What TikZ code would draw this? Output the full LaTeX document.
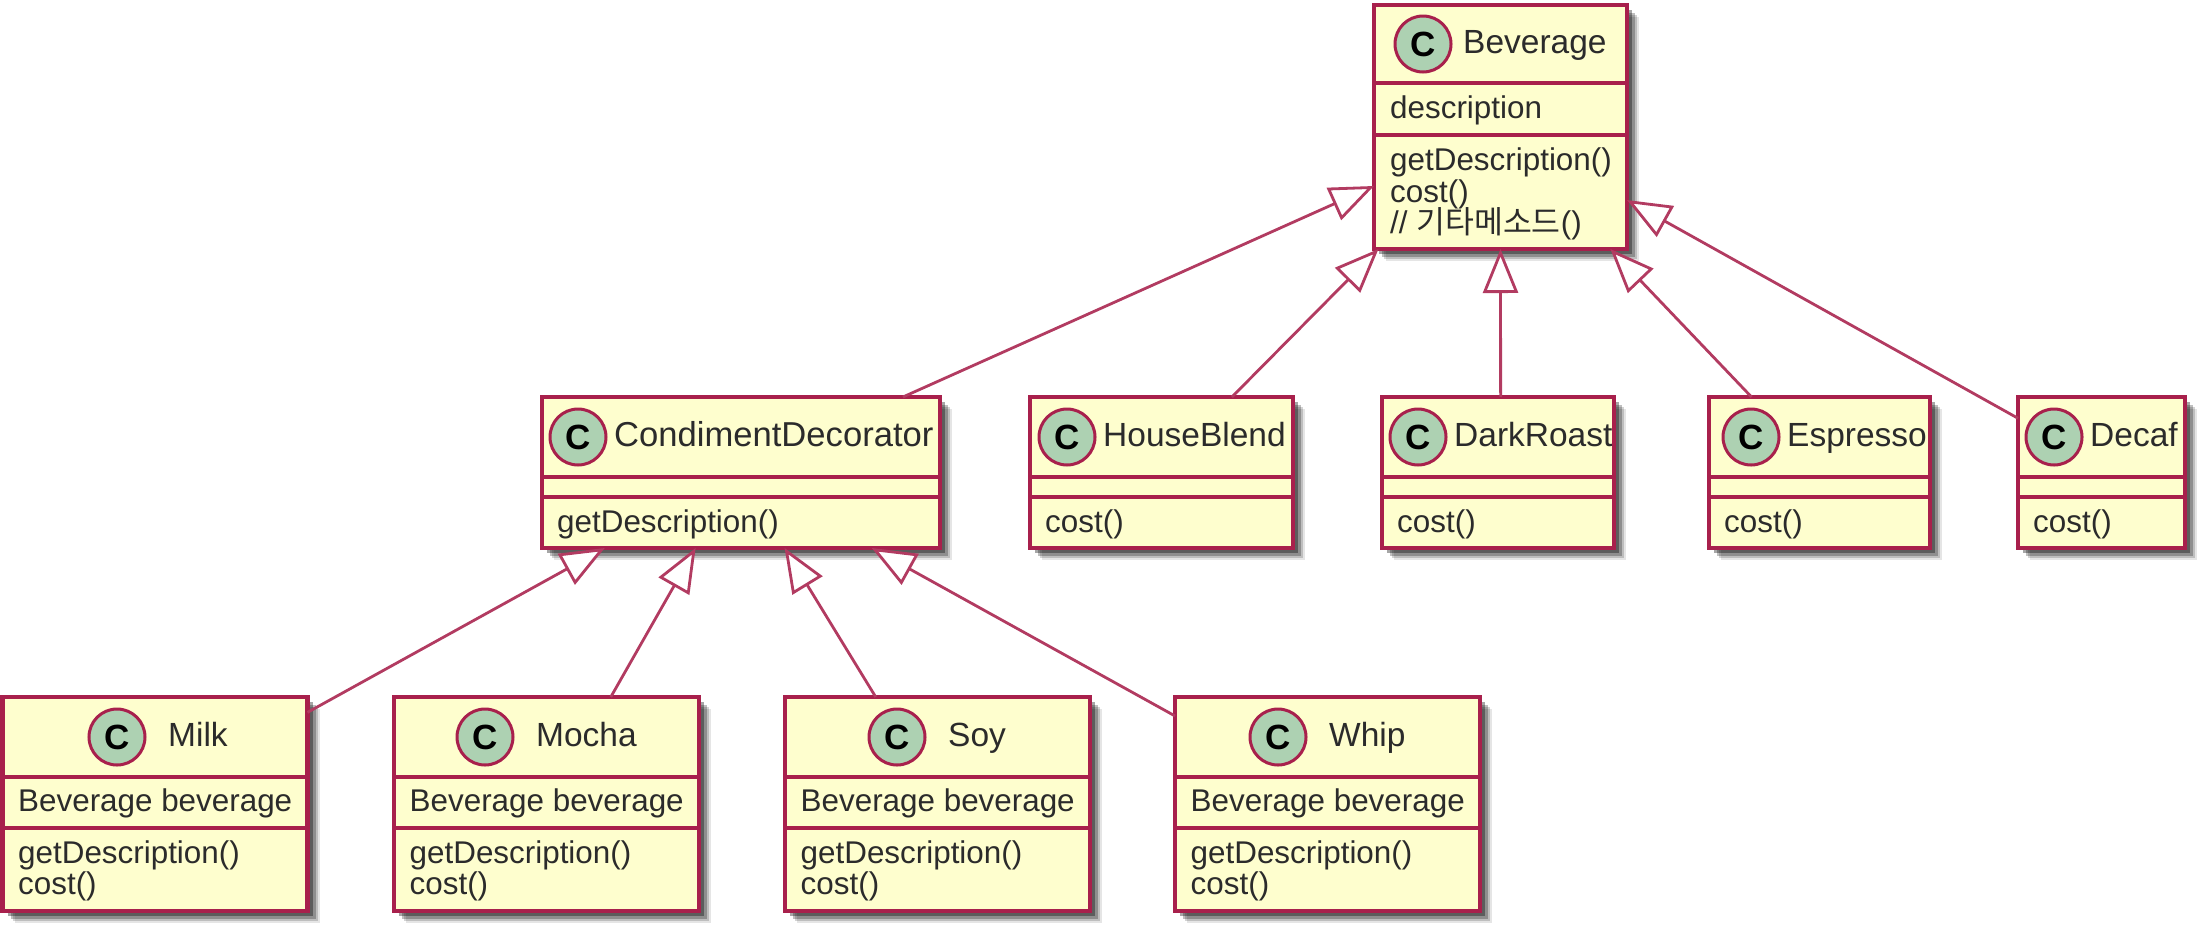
\documentclass[tikz,border=0pt]{standalone}
\usepackage{fontspec}
\setmainfont{Liberation Sans}
\newfontfamily\cjkfont{Noto Sans CJK KR}
\usepackage{xcolor}
\usepackage{tikz}
\usetikzlibrary{positioning, arrows.meta, shadows}
\definecolor{UMLline}{HTML}{A8204C}
\definecolor{UMLfill}{HTML}{FEFECE}
\definecolor{UMLspot}{HTML}{ADD1B2}
\definecolor{UMLtext}{HTML}{2B2B2B}

\begin{document}
\begin{tikzpicture}[
  x=1pt, y=-1pt,
  classbox/.style={rectangle, draw=UMLline, line width=4.4pt, fill=UMLfill,
                   inner sep=0pt, outer sep=0pt,
                   general shadow={shadow xshift=12pt, shadow yshift=-12pt, fill=black, opacity=.1},
                   general shadow={shadow xshift=10pt, shadow yshift=-10pt, fill=black, opacity=.17},
                   general shadow={shadow xshift=8pt, shadow yshift=-8pt, fill=black, opacity=.25},
                   general shadow={shadow xshift=5pt, shadow yshift=-5pt, fill=black, opacity=.35}},
  spot/.style={circle, draw=UMLline, line width=3pt, fill=UMLspot, minimum size=56pt,
               inner sep=0pt, outer sep=0pt, text=black,
               font=\fontsize{35}{35}\selectfont\bfseries},
  title/.style={inner sep=0pt, text=UMLtext, text height=25pt, text depth=6pt,
                font=\fontsize{33.5}{36}\selectfont},
  member/.style={inner sep=0pt, anchor=base west, text=UMLtext,
                 font=\fontsize{31.4}{34}\selectfont},
  divide/.style={UMLline, line width=3.4pt},
  inh/.style={-{Triangle[open, fill=white, length=44pt, width=35pt, line width=2.8pt]},
              UMLline!88, line width=2.8pt},
]
\useasboundingbox (0,0) rectangle (2206,930);

% top
\node[classbox, minimum width=253pt, minimum height=244pt] (bev) at (1500.5,127) {};
\node[spot] (bev-c) at (1423,44) {C};
\node[title, right=12pt of bev-c] (bev-t) {Beverage};
\draw[divide] (bev.west |- 0,83) -- (bev.east |- 0,83);
\draw[divide] (bev.west |- 0,135) -- (bev.east |- 0,135);
\node[member] (bev-a) at (1390,118) {description};
\node[member] (bev-m) at (1390,170) {getDescription()};
\node[member] (bev-n) at (1390,202) {cost()};
\node[member] (bev-o) at (1390,233) {// {\cjkfont 기타메소드}()};

% middle row
\foreach \nm/\lbl/\cx/\bw/\cc/\mem in {
    cond/{\fontsize{34.6}{36}\selectfont CondimentDecorator}/741/398/578/getDescription(),
    house/HouseBlend/1161.5/263/1067/cost(),
    dark/DarkRoast/1498/232/1418/cost(),
    espresso/Espresso/1819.5/221/1751/cost(),
    decaf/Decaf/2101.5/167/2054/cost()} {
  \node[classbox, minimum width=\bw pt, minimum height=151pt] (\nm) at (\cx,472.5) {};
  \node[spot] (\nm-c) at (\cc,437) {C};
  \node[title, right=8pt of \nm-c] (\nm-t) {\lbl};
  \draw[divide] (\nm.west |- 0,477) -- (\nm.east |- 0,477);
  \draw[divide] (\nm.west |- 0,497) -- (\nm.east |- 0,497);
  \node[member] (\nm-m) at (\cx-\bw/2+15,532.5) {\mem};
}

% bottom row
\foreach \nm/\lbl/\cx/\cc in {milk/Milk/155/117, mocha/Mocha/546.5/485,
    soy/Soy/937.5/897, whip/Whip/1327.5/1278} {
  \node[classbox, minimum width=305pt, minimum height=214pt] (\nm) at (\cx,804) {};
  \node[spot] (\nm-c) at (\cc,737) {C};
  \node[title, right=23pt of \nm-c] (\nm-t) {\lbl};
  \draw[divide] (\nm.west |- 0,777) -- (\nm.east |- 0,777);
  \draw[divide] (\nm.west |- 0,828) -- (\nm.east |- 0,828);
  \node[member] (\nm-a) at (\cx-137,811) {Beverage beverage};
  \node[member] (\nm-m) at (\cx-137,863) {getDescription()};
  \node[member] (\nm-n) at (\cx-137,894) {cost()};
}

\draw[inh] (cond.25.3) -- (bev.205);
\draw[inh] (house.47) -- (bev.225.3);
\draw[inh] (dark.88) -- (bev.south);
\draw[inh] (espresso.132.6) -- (bev.312.7);
\draw[inh] (decaf.147.4) -- (bev.330);
\draw[inh] (milk.31) -- (cond.209);
\draw[inh] (mocha.59.8) -- (cond.239.8);
\draw[inh] (soy.120.6) -- (cond.300.8);
\draw[inh] (whip.150.4) -- (cond.330.6);
\end{tikzpicture}
\end{document}
